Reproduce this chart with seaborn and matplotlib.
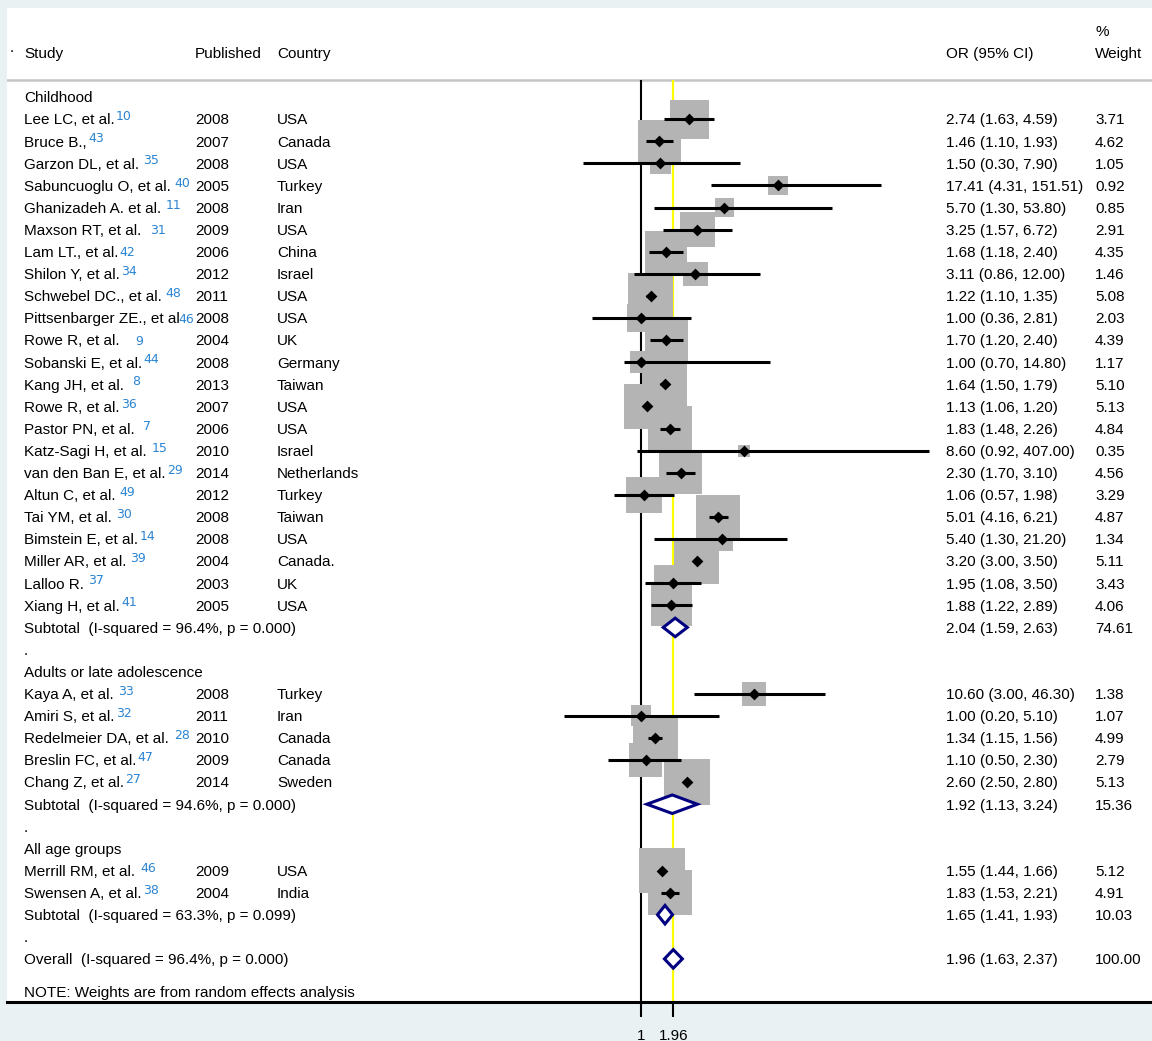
# Forest plot: odds ratios of injury by age group
import numpy as np
import pandas as pd
import matplotlib
matplotlib.use("Agg")
import matplotlib.pyplot as plt
import matplotlib.ticker as mticker
import matplotlib.transforms as mtransforms
import seaborn as sns

# Study level data
group_names = ["Childhood", "Adults or late adolescence", "All age groups"]

child_study = ["Lee LC, et al.", "Bruce B.,", "Garzon DL, et al.", "Sabuncuoglu O, et al.",
               "Ghanizadeh A. et al.", "Maxson RT, et al.", "Lam LT., et al.", "Shilon Y, et al.",
               "Schwebel DC., et al.", "Pittsenbarger ZE., et al", "Rowe R, et al.",
               "Sobanski E, et al.", "Kang JH, et al.", "Rowe R, et al.", "Pastor PN, et al.",
               "Katz-Sagi H, et al.", "van den Ban E, et al.", "Altun C, et al.", "Tai YM, et al.",
               "Bimstein E, et al.", "Miller AR, et al.", "Lalloo R.", "Xiang H, et al."]
child_ref = ["10", "43", "35", "40", "11", "31", "42", "34", "48", "46", "9", "44", "8", "36",
             "7", "15", "29", "49", "30", "14", "39", "37", "41"]
child_year = ["2008", "2007", "2008", "2005", "2008", "2009", "2006", "2012", "2011", "2008",
              "2004", "2008", "2013", "2007", "2006", "2010", "2014", "2012", "2008", "2008",
              "2004", "2003", "2005"]
child_country = ["USA", "Canada", "USA", "Turkey", "Iran", "USA", "China", "Israel", "USA",
                 "USA", "UK", "Germany", "Taiwan", "USA", "USA", "Israel", "Netherlands",
                 "Turkey", "Taiwan", "USA", "Canada.", "UK", "USA"]
child_or = [2.74, 1.46, 1.50, 17.41, 5.70, 3.25, 1.68, 3.11, 1.22, 1.00, 1.70, 1.00, 1.64,
            1.13, 1.83, 8.60, 2.30, 1.06, 5.01, 5.40, 3.20, 1.95, 1.88]
child_lo = [1.63, 1.10, 0.30, 4.31, 1.30, 1.57, 1.18, 0.86, 1.10, 0.36, 1.20, 0.70, 1.50,
            1.06, 1.48, 0.92, 1.70, 0.57, 4.16, 1.30, 3.00, 1.08, 1.22]
child_hi = [4.59, 1.93, 7.90, 151.51, 53.80, 6.72, 2.40, 12.00, 1.35, 2.81, 2.40, 14.80,
            1.79, 1.20, 2.26, 407.00, 3.10, 1.98, 6.21, 21.20, 3.50, 3.50, 2.89]
child_wt = [3.71, 4.62, 1.05, 0.92, 0.85, 2.91, 4.35, 1.46, 5.08, 2.03, 4.39, 1.17, 5.10,
            5.13, 4.84, 0.35, 4.56, 3.29, 4.87, 1.34, 5.11, 3.43, 4.06]

adult_study = ["Kaya A, et al.", "Amiri S, et al.", "Redelmeier DA, et al.",
               "Breslin FC, et al.", "Chang Z, et al."]
adult_ref = ["33", "32", "28", "47", "27"]
adult_year = ["2008", "2011", "2010", "2009", "2014"]
adult_country = ["Turkey", "Iran", "Canada", "Canada", "Sweden"]
adult_or = [10.60, 1.00, 1.34, 1.10, 2.60]
adult_lo = [3.00, 0.20, 1.15, 0.50, 2.50]
adult_hi = [46.30, 5.10, 1.56, 2.30, 2.80]
adult_wt = [1.38, 1.07, 4.99, 2.79, 5.13]

all_study = ["Merrill RM, et al.", "Swensen A, et al."]
all_ref = ["46", "38"]
all_year = ["2009", "2004"]
all_country = ["USA", "India"]
all_or = [1.55, 1.83]
all_lo = [1.44, 1.53]
all_hi = [1.66, 2.21]
all_wt = [5.12, 4.91]

# Pooled estimates (three subtotals, then overall)
pooled_label = ["Subtotal  (I-squared = 96.4%, p = 0.000)",
                "Subtotal  (I-squared = 94.6%, p = 0.000)",
                "Subtotal  (I-squared = 63.3%, p = 0.099)",
                "Overall  (I-squared = 96.4%, p = 0.000)"]
pooled_or = [2.04, 1.92, 1.65, 1.96]
pooled_lo = [1.59, 1.13, 1.41, 1.63]
pooled_hi = [2.63, 3.24, 1.93, 2.37]
pooled_wt = [74.61, 15.36, 10.03, 100.00]

note_text = "NOTE: Weights are from random effects analysis"

# Superscript spacing (px gap after name) and which ones sit low
sup_gap = {"Lee LC, et al.": 1, "Garzon DL, et al.": 4, "Sabuncuoglu O, et al.": 4,
           "Ghanizadeh A. et al.": 5, "Maxson RT, et al.": 9, "Schwebel DC., et al.": 4,
           "Pittsenbarger ZE., et al": -1, "Kang JH, et al.": 8, "Pastor PN, et al.": 8,
           "Katz-Sagi H, et al.": 5, "Altun C, et al.": 4, "Tai YM, et al.": 4,
           "Miller AR, et al.": 4, "Lalloo R.": 4, "Kaya A, et al.": 4,
           "Redelmeier DA, et al.": 5, "Merrill RM, et al.": 5}
sup_low = ["Maxson RT, et al.", "Lam LT., et al.", "Pittsenbarger ZE., et al"]

# Build one table of studies with their row numbers
groups = [
    (child_study, child_ref, child_year, child_country, child_or, child_lo, child_hi, child_wt),
    (adult_study, adult_ref, adult_year, adult_country, adult_or, adult_lo, adult_hi, adult_wt),
    (all_study, all_ref, all_year, all_country, all_or, all_lo, all_hi, all_wt),
]

records = []
header_rows = []
pooled_rows = []
dot_rows = []
row = 0
for g, cols in enumerate(groups):
    header_rows.append(row)
    row += 1
    for i in range(len(cols[0])):
        records.append({"study": cols[0][i], "ref": cols[1][i], "year": cols[2][i],
                        "country": cols[3][i], "or": cols[4][i], "lo": cols[5][i],
                        "hi": cols[6][i], "wt": cols[7][i], "row": row})
        row += 1
    pooled_rows.append(row)
    row += 1
    dot_rows.append(row)
    row += 1
pooled_rows.append(row)
note_row = row + 1.5

df = pd.DataFrame(records)
# Rowe R, et al. (ref 9) has a wide gap and low superscript
rowe_idx = df.index[(df["study"] == "Rowe R, et al.") & (df["ref"] == "9")][0]

# Style
sns.set_theme(style="white")
plt.rcParams['font.family'] = ['Liberation Sans', 'DejaVu Sans']
plt.rcParams['text.color'] = 'black'

bg = "#EAF1F3"
box_grey = "#B4B4B4"
navy = "#000080"
sup_blue = "#2A84D2"

W, H = 1152, 1041
fig = plt.figure(figsize=(W / 100, H / 100), dpi=100, facecolor=bg)
ax = fig.add_axes([7 / W, 39 / H, 1145 / W, 994 / H])
ax.set_facecolor("white")
ax.set_xscale("log")
ax.set_xlim(np.exp(-13.24), np.exp(10.67))
ax.set_ylim(40.95, -4.03)

header_line = -0.79

# Reference lines
ax.axhline(header_line, color="#C4C4C4", lw=1.8, zorder=1)
ax.vlines(1, header_line, 40.95, color="black", lw=1.5, zorder=1)
ax.vlines(pooled_or[-1], header_line, 40.95, color="#FFFF00", lw=1.6, zorder=1)

# Weight boxes (area proportional to weight)
k = 210
wmin, wmax = df["wt"].min(), df["wt"].max()
sns.scatterplot(data=df, x="or", y="row", size="wt", sizes=(k * wmin, k * wmax),
                size_norm=(wmin, wmax), marker="s", color=box_grey, linewidth=0,
                legend=False, ax=ax, zorder=2)

# Confidence intervals and point estimates
ax.hlines(df["row"], df["lo"], df["hi"], color="black", lw=2.2, zorder=3)
sns.scatterplot(data=df, x="or", y="row", marker="D", s=36, color="black",
                linewidth=0, legend=False, ax=ax, zorder=4)

# Pooled diamonds
dh = 0.42
for r, est, lo, hi in zip(pooled_rows, pooled_or, pooled_lo, pooled_hi):
    ax.fill([lo, est, hi, est], [r, r - dh, r, r + dh], facecolor="white",
            edgecolor=navy, lw=2.2, joinstyle="miter", zorder=5)

# Axis styling
ax.set_xticks([1, pooled_or[-1]])
ax.set_xticklabels(["1", f"{pooled_or[-1]:.2f}"])
ax.xaxis.set_minor_locator(mticker.NullLocator())
ax.set_yticks([])
ax.tick_params(axis="x", bottom=True, length=10.5, width=1.5, pad=9, labelsize=11,
               color="black", labelcolor="black", direction="out")
for side in ["top", "left", "right"]:
    ax.spines[side].set_visible(False)
ax.spines["bottom"].set_color("black")
ax.spines["bottom"].set_linewidth(2.2)
ax.set_xlabel("")
ax.set_ylabel("")

# Text columns
trans = mtransforms.blended_transform_factory(fig.transFigure, ax.transData)
x_study, x_year, x_country, x_or, x_wt = 24 / W, 195 / W, 277 / W, 946 / W, 1095 / W
fs = 11
dy = 0.06


def put(x, y, s):
    return ax.text(x, y + dy, s, transform=trans, ha="left", va="center", fontsize=fs)


put(10 / W, -2.3, ".")
put(x_study, -2, "Study")
put(x_year, -2, "Published")
put(x_country, -2, "Country")
put(x_or, -2, "OR (95% CI)")
put(x_wt, -3, "%")
put(x_wt, -2, "Weight")

for r, name in zip(header_rows, group_names):
    put(x_study, r, name)
for r in dot_rows:
    put(x_study, r, ".")

for i, rec in df.iterrows():
    t = put(x_study, rec["row"], rec["study"])
    gap = sup_gap.get(rec["study"], 1.5)
    low = rec["study"] in sup_low
    if i == rowe_idx:
        gap, low = 16, True
    raise_px = 3.8 if low else 7.2
    ax.annotate(rec["ref"], xy=(1, 0), xycoords=t, xytext=(gap * 0.72, raise_px * 0.72),
                textcoords="offset points", ha="left", va="baseline", fontsize=9,
                family="DejaVu Sans", color=sup_blue)
    put(x_year, rec["row"], rec["year"])
    put(x_country, rec["row"], rec["country"])
    put(x_or, rec["row"], f"{rec['or']:.2f} ({rec['lo']:.2f}, {rec['hi']:.2f})")
    put(x_wt, rec["row"], f"{rec['wt']:.2f}")

for r, lab, est, lo, hi, w in zip(pooled_rows, pooled_label, pooled_or, pooled_lo,
                                  pooled_hi, pooled_wt):
    put(x_study, r, lab)
    put(x_or, r, f"{est:.2f} ({lo:.2f}, {hi:.2f})")
    put(x_wt, r, f"{w:.2f}")

put(x_study, note_row, note_text)

fig.savefig("out.png", dpi=100, facecolor=bg)
